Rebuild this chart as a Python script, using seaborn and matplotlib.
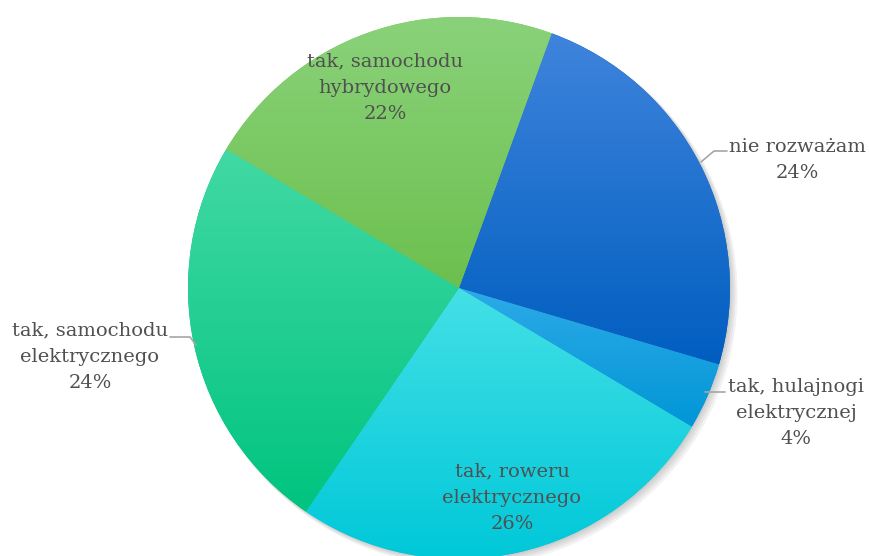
import numpy as np
import seaborn as sns
import matplotlib
matplotlib.use("Agg")
import matplotlib.pyplot as plt
from matplotlib.colors import LinearSegmentedColormap

# --------------------------------------
# Data
# --------------------------------------
categories = ["nie rozważam", "tak, hulajnogi\nelektrycznej", "tak, roweru\nelektrycznego",
              "tak, samochodu\nelektrycznego", "tak, samochodu\nhybrydowego"]
shares = [24, 4, 26, 24, 22]

# gradient colours per slice (top, bottom)
grad_colors = [("#3f84dc", "#005ec0"),
               ("#2eaae8", "#0096d6"),
               ("#44e0e6", "#00c8d9"),
               ("#42d9a4", "#00c47f"),
               ("#8ad27a", "#6cc04e")]

# label positions in pixels (centre of text block) and leader lines
label_px = [(797, 160), (796, 413), (512, 498), (90, 357), (385, 88)]
leaders_px = {0: [(701, 162), (714, 151), (727, 151)],
              1: [(705, 392), (713, 392), (725, 392)],
              3: [(196, 345), (190, 337), (170, 337)]}

W, H = 870, 556
cx, cy, R = 459, 288, 271


def to_data(px, py):
    return (px - cx) / R, (cy - py) / R


sns.set_theme(style="white")
plt.rcParams["font.family"] = ["DejaVu Serif"]

fig = plt.figure(figsize=(W / 100, H / 100), dpi=100)
ax = fig.add_axes([0, 0, 1, 1])

# soft shadow under the pie
for i, a in enumerate([0.05, 0.05, 0.05, 0.05]):
    off = (1.5 + i * 1.5) / R
    ax.add_patch(plt.Circle((off, -off), 1.0 + i * 0.5 / R, color="black", alpha=a, lw=0, zorder=0))

wedges, _ = ax.pie(shares, startangle=70, counterclock=False, radius=1, center=(0, 0),
                   wedgeprops=dict(linewidth=0, zorder=1))

for wedge, (top, bottom) in zip(wedges, grad_colors):
    wedge.set_facecolor(bottom)
    ext = wedge.get_path().get_extents()
    cmap = LinearSegmentedColormap.from_list("g", [bottom, top])
    grad = np.linspace(0, 1, 256).reshape(-1, 1)
    im = ax.imshow(grad, extent=[ext.x0, ext.x1, ext.y0, ext.y1], origin="lower",
                   cmap=cmap, aspect="auto", zorder=2, interpolation="bilinear")
    im.set_clip_path(wedge)

# labels
for i, (name, pct) in enumerate(zip(categories, shares)):
    x, y = to_data(*label_px[i])
    ax.text(x, y, f"{name}\n{pct}%", ha="center", va="center", fontsize=14,
            color="#505050", linespacing=1.6, zorder=5)
    if i in leaders_px:
        pts = [to_data(*p) for p in leaders_px[i]]
        ax.plot([p[0] for p in pts], [p[1] for p in pts], color="#a6a6a6", lw=1.2, zorder=4)

ax.set_xlim(-cx / R, (W - cx) / R)
ax.set_ylim(-(H - cy) / R, cy / R)
ax.set_aspect("auto")
ax.axis("off")

fig.savefig("out.png", dpi=100, facecolor="white")
